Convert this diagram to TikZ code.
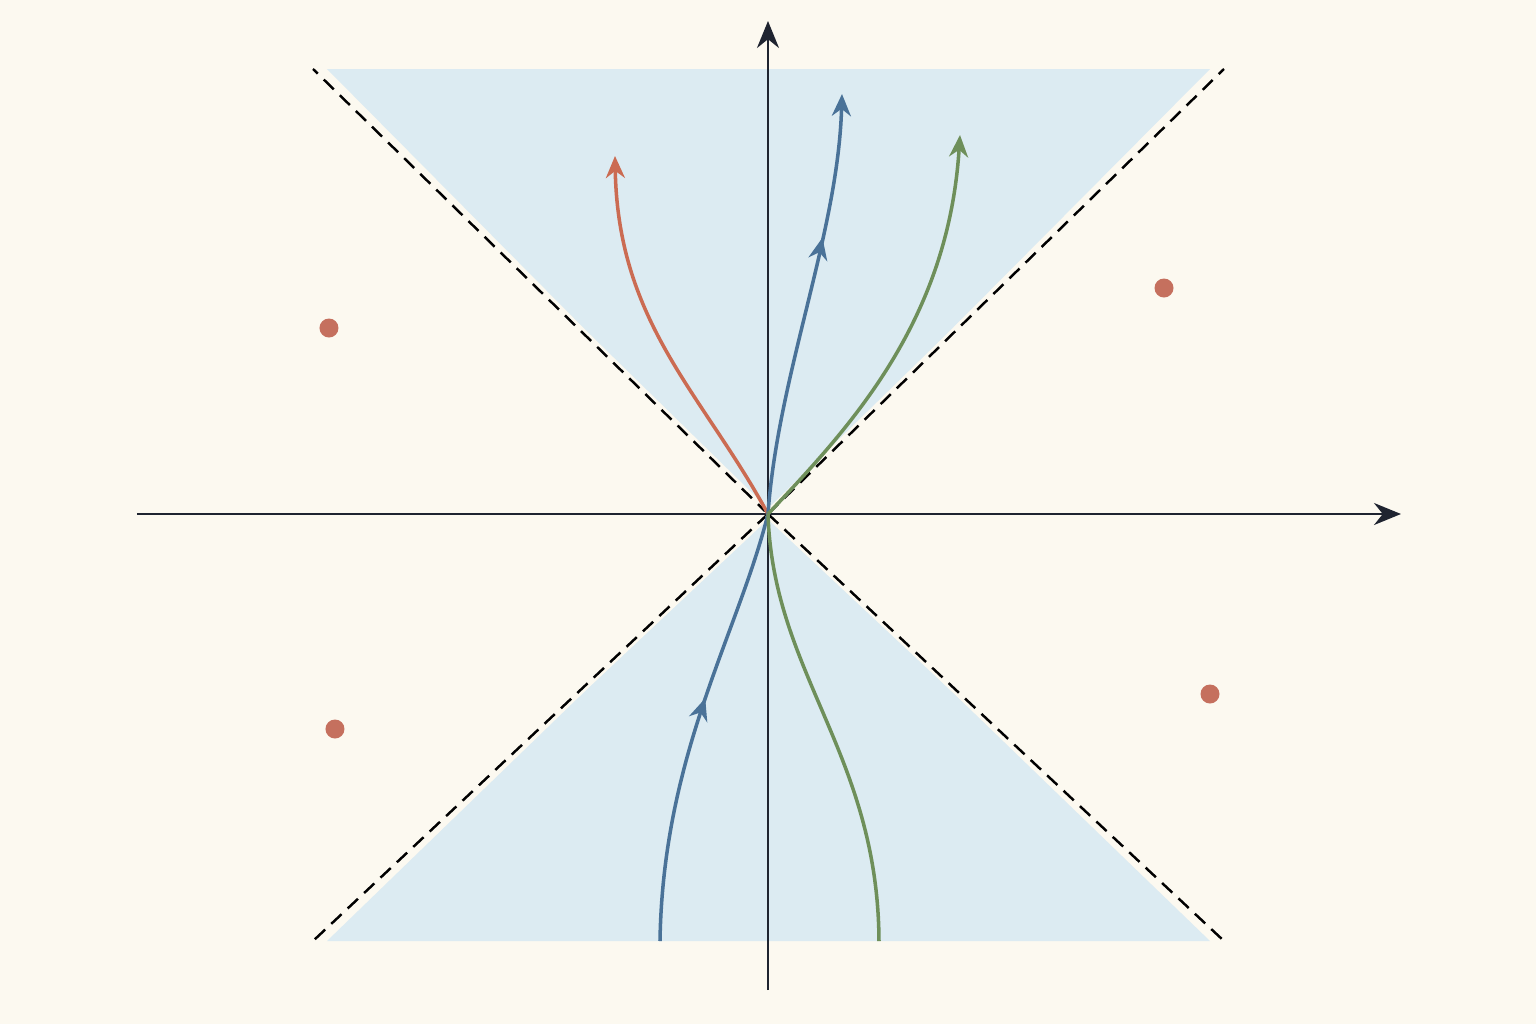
\documentclass[tikz,border=0pt]{standalone}
\usepackage{tikz}
\usepackage{xcolor}
\usetikzlibrary{arrows.meta,decorations.markings}

\definecolor{paper}{HTML}{FCF9F0}
\definecolor{conefill}{HTML}{DCEBF2}
\definecolor{axisink}{HTML}{1F2430}
\definecolor{pathred}{HTML}{CB6B52}
\definecolor{pathblue}{HTML}{4A7298}
\definecolor{pathgreen}{HTML}{6E8F5A}
\definecolor{dotred}{HTML}{C5705E}

\tikzset{
	axisline/.style={axisink, line width=0.65pt, -{Stealth[length=0.27cm,width=0.22cm]}},
	coneedge/.style={black, line width=0.7pt, dash pattern=on 4pt off 2.4pt},
	conehalo/.style={paper, line width=2.2pt},
	worldline/.style={line width=1pt, -{Stealth[length=0.22cm,width=0.19cm]}},
	midarrow/.style={postaction={decorate}, decoration={markings,
		mark=at position #1 with {\arrow{Stealth[length=0.22cm,width=0.19cm]}}}},
	event/.style={circle, fill=dotred, inner sep=0pt, minimum size=0.19cm}
}

\begin{document}
\begin{tikzpicture}
		\useasboundingbox (-7.68,-5.10) rectangle (7.68,5.14);
		\fill[paper] (-7.68,-5.10) rectangle (7.68,5.14);
		
		\coordinate (O) at (0,0);
		\coordinate (UL) at (-4.55,4.45);
		\coordinate (UR) at (4.56,4.45);
		\coordinate (LL) at (-4.55,-4.27);
		\coordinate (LR) at (4.56,-4.27);
		
		%Cones
		\fill[conefill] (O) -- (-4.41,4.45) -- (4.42,4.45) -- cycle;
		\fill[conefill] (O) -- (-4.41,-4.27) -- (4.42,-4.27) -- cycle;
		
		\foreach \c in {UL,UR,LL,LR}{
			\draw[conehalo] (O) -- (\c);
			\draw[coneedge] (O) -- (\c);
		}
		
		%Axis
		\coordinate (A) at (-6.31,0);
		\coordinate (B) at (6.33,0);
		\coordinate (C) at (0,-4.76);
		\coordinate (D) at (0,4.93);
		\draw[axisline] (A) -- (B);
		\draw[axisline] (C) -- (D);
		
		%Future
		\coordinate (R1) at (-1.53,3.58);
		\coordinate (B1) at (0.74,4.20);
		\coordinate (G1) at (1.92,3.79);
		\draw[worldline, pathred] (O) .. controls (-0.65,1.2) and (-1.5,1.9) .. (R1);
		\draw[worldline, pathblue, midarrow=0.66] (O) .. controls (0.1,1.4) and (0.7,2.8) .. (B1);
		\draw[worldline, pathgreen] (O) .. controls (0.8,0.85) and (1.8,1.9) .. (G1);
		
		%Past
		\coordinate (B0) at (-1.08,-4.27);
		\coordinate (G0) at (1.11,-4.27);
		\draw[pathblue, line width=1pt, midarrow=0.56] (B0) .. controls (-1.05,-2.4) and (-0.3,-1.2) .. (O);
		\draw[pathgreen, line width=1pt] (G0) .. controls (1.1,-2.4) and (0.05,-1.6) .. (O);
		
		%Elsewhere
		\node[event] (E1) at (-4.39,1.86) {};
		\node[event] (E2) at (3.96,2.26) {};
		\node[event] (E3) at (-4.33,-2.15) {};
		\node[event] (E4) at (4.42,-1.80) {};
		
\end{tikzpicture}
\end{document}
